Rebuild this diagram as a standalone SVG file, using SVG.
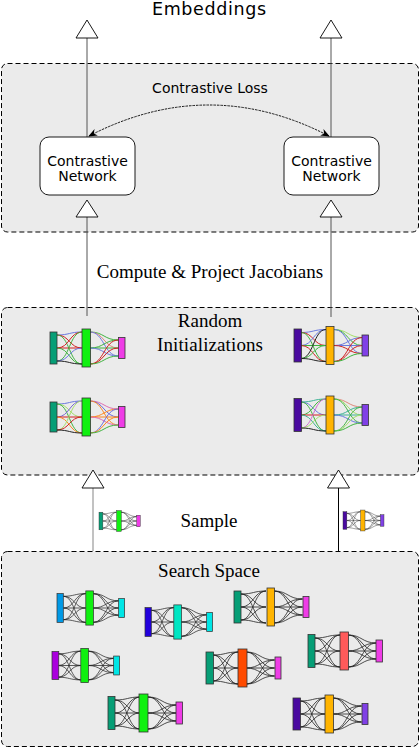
<svg xmlns="http://www.w3.org/2000/svg" xmlns:xlink="http://www.w3.org/1999/xlink" width="420" height="748" viewBox="0 0 420 748">
<style>
.box{fill:#ebebeb;stroke:#000;stroke-width:1;stroke-dasharray:5,3}
.node{fill:#fff;stroke:#000;stroke-width:0.9}
.sans{font-family:"DejaVu Sans","Noto Sans",sans-serif;fill:#000}
.serif{font-family:"Liberation Serif","Times New Roman",serif;font-size:19px;fill:#000}
.tri{fill:#fff;stroke:#000;stroke-width:0.9}
.ln{stroke:#555;stroke-width:1;fill:none}
.bar{stroke:#333;stroke-width:0.8}
.blk{stroke:#000;stroke-width:0.8;fill:none;opacity:0.85}
.col{stroke-width:1;fill:none;opacity:0.85}
</style>
<defs>
<marker id="ah" viewBox="0 0 10 10" refX="9" refY="5" markerWidth="9" markerHeight="9" markerUnits="userSpaceOnUse" orient="auto-start-reverse">
<path d="M0,1 L10,5 L0,9 L3,5 z" fill="#000"/>
</marker>
<path id="a1" d="M7,-13 C19.5,-13 19.5,-16 32,-16"/>
<path id="a2" d="M7,-13 C19.5,-13 19.5,0 32,0"/>
<path id="a3" d="M7,-13 C19.5,-13 19.5,16 32,16"/>
<path id="a4" d="M7,0 C19.5,0 19.5,-16 32,-16"/>
<path id="a5" d="M7,0 L32,0"/>
<path id="a6" d="M7,0 C19.5,0 19.5,16 32,16"/>
<path id="a7" d="M7,13 C19.5,13 19.5,-16 32,-16"/>
<path id="a8" d="M7,13 C19.5,13 19.5,0 32,0"/>
<path id="a9" d="M7,13 C19.5,13 19.5,16 32,16"/>
<path id="b1" d="M40,-16 C54,-16 54,-8 68.5,-8"/>
<path id="b2" d="M40,-16 C54,-16 54,0 68.5,0"/>
<path id="b3" d="M40,-16 C54,-16 54,8 68.5,8"/>
<path id="b4" d="M40,0 C54,0 54,-8 68.5,-8"/>
<path id="b5" d="M40,0 L68.5,0"/>
<path id="b6" d="M40,0 C54,0 54,8 68.5,8"/>
<path id="b7" d="M40,16 C54,16 54,-8 68.5,-8"/>
<path id="b8" d="M40,16 C54,16 54,0 68.5,0"/>
<path id="b9" d="M40,16 C54,16 54,8 68.5,8"/>
<g id="lk">
<use href="#a1"/><use href="#a2"/><use href="#a3"/><use href="#a4"/><use href="#a5"/><use href="#a6"/><use href="#a7"/><use href="#a8"/><use href="#a9"/>
<use href="#b1"/><use href="#b2"/><use href="#b3"/><use href="#b4"/><use href="#b5"/><use href="#b6"/><use href="#b7"/><use href="#b8"/><use href="#b9"/>
</g>
</defs>

<rect width="420" height="748" fill="#fff"/>

<!-- clusters -->
<g id="cluster-contrastive">
<rect class="box" x="1.5" y="63.5" width="417" height="168.5" rx="6"/>
<text class="sans" x="210" y="93" font-size="14" text-anchor="middle">Contrastive Loss</text>
</g>
<g id="cluster-random">
<rect class="box" x="1.5" y="307.5" width="417" height="167.5" rx="6"/>
<text class="serif" x="210" y="327" text-anchor="middle">Random</text>
<text class="serif" x="210" y="351" text-anchor="middle" textLength="106" lengthAdjust="spacing">Initializations</text>
</g>
<g id="cluster-search">
<rect class="box" x="1.5" y="551.5" width="417" height="195" rx="6"/>
<text class="serif" x="209" y="577" text-anchor="middle">Search Space</text>
</g>

<text class="sans" x="209" y="15" font-size="17.5" text-anchor="middle" textLength="114" lengthAdjust="spacing">Embeddings</text>
<text class="serif" x="210" y="278" text-anchor="middle">Compute &amp; Project Jacobians</text>
<text class="serif" x="209" y="527" text-anchor="middle">Sample</text>

<!-- connectors -->
<g id="connectors">
<line class="ln" x1="87" y1="38" x2="87" y2="137"/>
<line class="ln" x1="331" y1="38" x2="331" y2="137"/>
<polygon class="tri" points="87,20 98,38 76,38"/>
<polygon class="tri" points="331,20 342,38 320,38"/>
<line class="ln" x1="87" y1="217" x2="87" y2="316" stroke="#777"/>
<line class="ln" x1="331" y1="217" x2="331" y2="317" stroke="#777"/>
<polygon class="tri" points="87,200 98,217 76,217"/>
<polygon class="tri" points="331,200 342,217 320,217"/>
<line x1="93" y1="488" x2="93" y2="551" stroke="#999" stroke-width="1.2"/>
<line x1="338.5" y1="488" x2="338.5" y2="551" stroke="#000" stroke-width="1"/>
<polygon class="tri" points="93,470 104,488 82,488"/>
<polygon class="tri" points="338.5,470 349.5,488 327.5,488"/>
<path d="M89,136 Q209,74 329,136" fill="none" stroke="#000" stroke-width="0.9" stroke-dasharray="2.5,1" marker-start="url(#ah)" marker-end="url(#ah)"/>
</g>

<!-- contrastive nodes -->
<g id="node-cn-left">
<rect class="node" x="40" y="137" width="95" height="58" rx="9"/>
<text class="sans" x="87.5" y="166" font-size="14" text-anchor="middle">Contrastive</text>
<text class="sans" x="87.5" y="181" font-size="14" text-anchor="middle">Network</text>
</g>
<g id="node-cn-right">
<rect class="node" x="284" y="137" width="95" height="58" rx="9"/>
<text class="sans" x="331.5" y="166" font-size="14" text-anchor="middle">Contrastive</text>
<text class="sans" x="331.5" y="181" font-size="14" text-anchor="middle">Network</text>
</g>

<!-- random initializations -->
<g id="net-init-tl" transform="translate(50,348)">
<g class="col">
<use href="#a1" stroke="#5566dd"/><use href="#a2" stroke="#cc0000"/><use href="#a3" stroke="#22aa22"/><use href="#a4" stroke="#cc0000"/><use href="#a5" stroke="#cc0000"/><use href="#a6" stroke="#22aa22"/><use href="#a7" stroke="#22aa22"/><use href="#a8" stroke="#5566dd"/><use href="#a9" stroke="#000"/>
<use href="#b1" stroke="#22aa22"/><use href="#b2" stroke="#dd7766"/><use href="#b3" stroke="#5566dd"/><use href="#b4" stroke="#22aa22"/><use href="#b5" stroke="#22aa22"/><use href="#b6" stroke="#5566dd"/><use href="#b7" stroke="#cc0000"/><use href="#b8" stroke="#cc0000"/><use href="#b9" stroke="#22aa22"/>
</g>
<rect class="bar" x="0" y="-16" width="7" height="32" fill="#069e76"/>
<rect class="bar" x="32" y="-19" width="8.5" height="38" fill="#10f010"/>
<rect class="bar" x="68.5" y="-10.5" width="6.5" height="21" fill="#ee3ce6"/>
</g>
<g id="net-init-bl" transform="translate(50,417)">
<g class="col">
<use href="#a1" stroke="#5566dd"/><use href="#a2" stroke="#99dd55"/><use href="#a3" stroke="#22aa22"/><use href="#a4" stroke="#6655cc"/><use href="#a5" stroke="#cc0000"/><use href="#a6" stroke="#ff7700"/><use href="#a7" stroke="#99dd55"/><use href="#a8" stroke="#cc0000"/><use href="#a9" stroke="#000"/>
<use href="#b1" stroke="#dd55aa"/><use href="#b2" stroke="#5555dd"/><use href="#b3" stroke="#ff7700"/><use href="#b4" stroke="#ff7700"/><use href="#b5" stroke="#ff7700"/><use href="#b6" stroke="#dd55aa"/><use href="#b7" stroke="#5555dd"/><use href="#b8" stroke="#ff7700"/><use href="#b9" stroke="#22aa22"/>
</g>
<rect class="bar" x="0" y="-15" width="7" height="30" fill="#069e76"/>
<rect class="bar" x="32" y="-19" width="8.5" height="38" fill="#10f010"/>
<rect class="bar" x="68.5" y="-10.5" width="6.5" height="21" fill="#ee3ce6"/>
</g>
<g id="net-init-tr" transform="translate(294,345.5)">
<g class="col">
<use href="#a1" stroke="#5566dd"/><use href="#a2" stroke="#cc0000"/><use href="#a3" stroke="#22aa22"/><use href="#a4" stroke="#5566dd"/><use href="#a5" stroke="#22aa22"/><use href="#a6" stroke="#cc0000"/><use href="#a7" stroke="#000"/><use href="#a8" stroke="#22aa22"/><use href="#a9" stroke="#000"/>
<use href="#b1" stroke="#99dd55"/><use href="#b2" stroke="#22aa22"/><use href="#b3" stroke="#5566dd"/><use href="#b4" stroke="#5566dd"/><use href="#b5" stroke="#5566dd"/><use href="#b6" stroke="#cc0000"/><use href="#b7" stroke="#cc0000"/><use href="#b8" stroke="#cc0000"/><use href="#b9" stroke="#22aa22"/>
</g>
<rect class="bar" x="0" y="-16.5" width="7.5" height="33" fill="#4a0aa0"/>
<rect class="bar" x="32" y="-19" width="8" height="38" fill="#ffb400"/>
<rect class="bar" x="68" y="-10.5" width="6.5" height="21" fill="#8040e6"/>
</g>
<g id="net-init-br" transform="translate(294,415)">
<g class="col">
<use href="#a1" stroke="#22aa88"/><use href="#a2" stroke="#5566dd"/><use href="#a3" stroke="#22aa22"/><use href="#a4" stroke="#22aa22"/><use href="#a5" stroke="#cc0000"/><use href="#a6" stroke="#22aa88"/><use href="#a7" stroke="#cc55cc"/><use href="#a8" stroke="#99dd55"/><use href="#a9" stroke="#000"/>
<use href="#b1" stroke="#dd7766"/><use href="#b2" stroke="#99dd55"/><use href="#b3" stroke="#22aa22"/><use href="#b4" stroke="#22aa88"/><use href="#b5" stroke="#22aa88"/><use href="#b6" stroke="#5566dd"/><use href="#b7" stroke="#22aa22"/><use href="#b8" stroke="#99dd55"/><use href="#b9" stroke="#22aa22"/>
</g>
<rect class="bar" x="0" y="-16.5" width="7.5" height="33" fill="#4a0aa0"/>
<rect class="bar" x="32" y="-19" width="8" height="38" fill="#ffb400"/>
<rect class="bar" x="68" y="-10.5" width="6.5" height="21" fill="#8040e6"/>
</g>

<!-- sampled networks -->
<g id="net-sample-left" transform="translate(99,521) scale(0.55)">
<use href="#lk" class="blk" stroke-width="1.2"/>
<rect class="bar" x="0" y="-16" width="7" height="32" fill="#069e76"/>
<rect class="bar" x="32" y="-19" width="8.5" height="38" fill="#10f010"/>
<rect class="bar" x="68.5" y="-10.5" width="6.5" height="21" fill="#ee3ce6"/>
</g>
<g id="net-sample-right" transform="translate(343,520.5) scale(0.55)">
<use href="#lk" class="blk" stroke-width="1.2"/>
<rect class="bar" x="0" y="-16" width="7" height="32" fill="#4a0aa0"/>
<rect class="bar" x="32" y="-19" width="8" height="38" fill="#ffb400"/>
<rect class="bar" x="68" y="-10.5" width="6.5" height="21" fill="#8040e6"/>
</g>

<!-- search space networks -->
<g id="net-s1" transform="translate(57,608) scale(0.9)">
<use href="#lk" class="blk"/>
<rect class="bar" x="0" y="-16" width="7" height="32" fill="#0099e6"/>
<rect class="bar" x="32" y="-19" width="8.5" height="38" fill="#10f010"/>
<rect class="bar" x="68.5" y="-10.5" width="6.5" height="21" fill="#00e6e6"/>
</g>
<g id="net-s2" transform="translate(145,622) scale(0.9)">
<use href="#lk" class="blk"/>
<rect class="bar" x="0" y="-16" width="7" height="32" fill="#2200dd"/>
<rect class="bar" x="32" y="-19" width="8.5" height="38" fill="#00e6c3"/>
<rect class="bar" x="68.5" y="-10.5" width="6.5" height="21" fill="#00e6e6"/>
</g>
<g id="net-s3" transform="translate(234,607)">
<use href="#lk" class="blk"/>
<rect class="bar" x="0" y="-16" width="7" height="32" fill="#069e76"/>
<rect class="bar" x="33" y="-19" width="7.5" height="38" fill="#ffb400"/>
<rect class="bar" x="69" y="-10.5" width="6" height="21" fill="#ee3ce6"/>
</g>
<g id="net-s4" transform="translate(308,651)">
<use href="#lk" class="blk"/>
<rect class="bar" x="0" y="-16.5" width="7" height="33" fill="#069e76"/>
<rect class="bar" x="32" y="-19" width="8.5" height="38" fill="#ff5a5a"/>
<rect class="bar" x="68" y="-11" width="6.5" height="22" fill="#ee3ce6"/>
</g>
<g id="net-s5" transform="translate(52,665.5) scale(0.9)">
<use href="#lk" class="blk"/>
<rect class="bar" x="0" y="-15.5" width="7.5" height="31" fill="#aa00dd"/>
<rect class="bar" x="32" y="-19" width="8.5" height="38" fill="#10f010"/>
<rect class="bar" x="68.5" y="-10.5" width="6.5" height="21" fill="#00e6e6"/>
</g>
<g id="net-s6" transform="translate(206,668)">
<use href="#lk" class="blk"/>
<rect class="bar" x="0" y="-16" width="7.5" height="32" fill="#069e76"/>
<rect class="bar" x="32" y="-19" width="9" height="38" fill="#ff4b00"/>
<rect class="bar" x="69" y="-11" width="6" height="22" fill="#ee3ce6"/>
</g>
<g id="net-s7" transform="translate(108,713)">
<use href="#lk" class="blk"/>
<rect class="bar" x="0" y="-16.5" width="7" height="33" fill="#069e76"/>
<rect class="bar" x="31" y="-19" width="9" height="38" fill="#10f010"/>
<rect class="bar" x="68" y="-11" width="6.5" height="22" fill="#ee3ce6"/>
</g>
<g id="net-s8" transform="translate(293,714)">
<use href="#lk" class="blk"/>
<rect class="bar" x="0" y="-16" width="7.5" height="32" fill="#4a0aa0"/>
<rect class="bar" x="32" y="-19" width="8.5" height="38" fill="#ffb400"/>
<rect class="bar" x="69" y="-10.5" width="6" height="21" fill="#8040e6"/>
</g>
</svg>
